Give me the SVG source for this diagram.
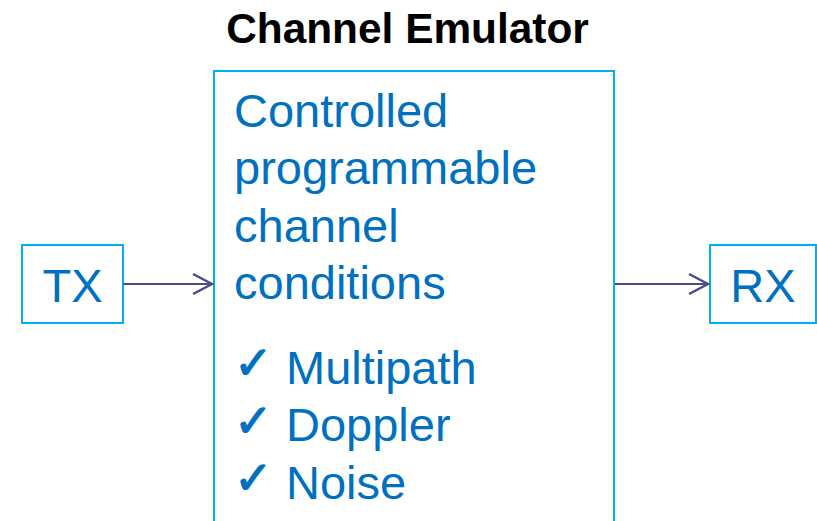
<svg xmlns="http://www.w3.org/2000/svg" width="817" height="521" viewBox="0 0 817 521">
  <style>
    .box { fill: #FFFFFF; stroke: #00B0F0; stroke-width: 2; }
    .lbl { font-family: "Liberation Sans", Arial, sans-serif; font-size: 47px; fill: #0070C0; }
    .chk { font-family: "DejaVu Sans", sans-serif; font-size: 46px; fill: #0070C0; stroke: #0070C0; stroke-width: 1.2; }
    .title { font-family: "Liberation Sans", Arial, sans-serif; font-size: 42.4px; font-weight: bold; fill: #000000; }
    .wire { fill: none; stroke: #4B4B8C; stroke-width: 2.2; }
  </style>
  <defs>
    <marker id="open-arrow" markerUnits="userSpaceOnUse" markerWidth="24" markerHeight="24" refX="20" refY="12" orient="auto">
      <path d="M1,2 L20,12 L1,22" fill="none" stroke="#4B4B8C" stroke-width="2.4"/>
    </marker>
  </defs>

  <rect width="817" height="521" fill="#FFFFFF"/>

  <g id="title">
    <text class="title" x="407.5" y="43" text-anchor="middle">Channel Emulator</text>
  </g>

  <g id="tx">
    <rect class="box" x="22" y="245" width="101" height="78"/>
    <text class="lbl" x="72.5" y="302" text-anchor="middle">TX</text>
  </g>

  <g id="emulator">
    <rect class="box" x="214" y="71" width="400" height="470"/>
    <text class="lbl" x="234" y="126.5">Controlled</text>
    <text class="lbl" x="234" y="184">programmable</text>
    <text class="lbl" x="234" y="241.5">channel</text>
    <text class="lbl" x="234" y="299">conditions</text>
    <text class="chk" x="234" y="379">✓</text>
    <text class="lbl" x="286" y="383.5">Multipath</text>
    <text class="chk" x="234" y="436.5">✓</text>
    <text class="lbl" x="286" y="441">Doppler</text>
    <text class="chk" x="234" y="494">✓</text>
    <text class="lbl" x="286" y="498.5">Noise</text>
  </g>

  <g id="rx">
    <rect class="box" x="710" y="245" width="106" height="78"/>
    <text class="lbl" x="763" y="302" text-anchor="middle">RX</text>
  </g>

  <g id="connectors">
    <line class="wire" x1="123" y1="284" x2="212" y2="284" marker-end="url(#open-arrow)"/>
    <line class="wire" x1="615" y1="284" x2="708" y2="284" marker-end="url(#open-arrow)"/>
  </g>
</svg>
